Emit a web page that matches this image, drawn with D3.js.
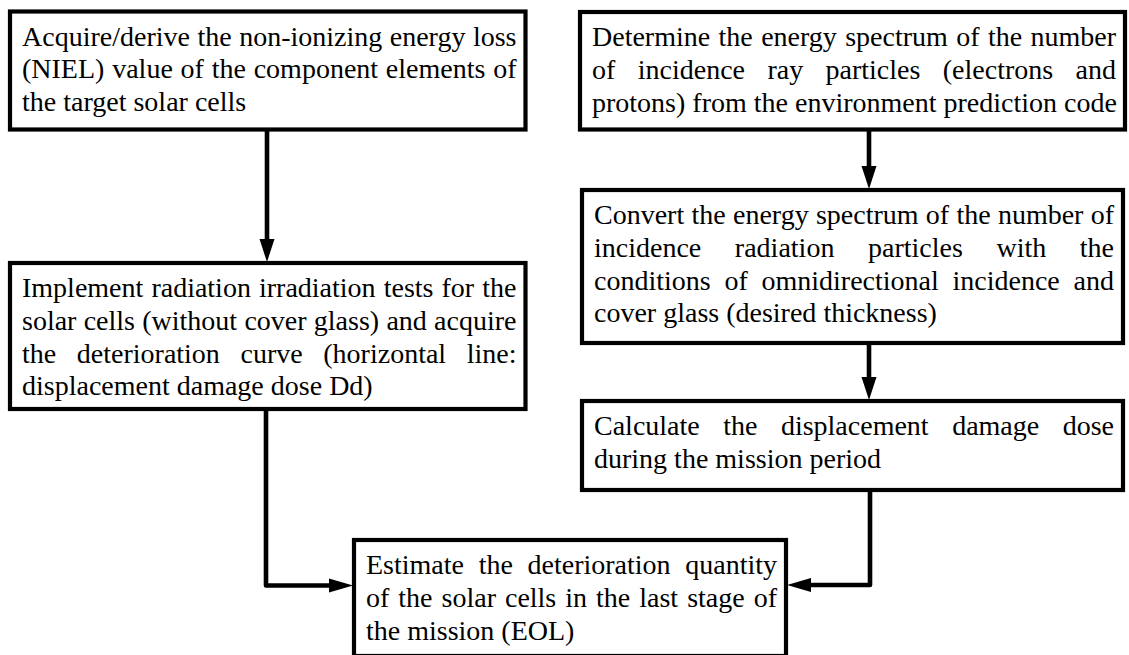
<!DOCTYPE html>
<html>
<head>
<meta charset="utf-8">
<script src="https://cdn.jsdelivr.net/npm/d3@7"></script>
<style>
  body { margin: 0; background: #fff; }
</style>
</head>
<body>
<script>
// step ids, in reading order
var steps = ["niel", "spectrum", "irradiation", "convert", "ddd", "estimate"];

// text of each step, line by line as in the figure
var nielLines = [
    "Acquire/derive the non-ionizing energy loss",
    "(NIEL) value of the component elements of",
    "the target solar cells"
];
var spectrumLines = [
    "Determine the energy spectrum of the number",
    "of incidence ray particles (electrons and",
    "protons) from the environment prediction code"
];
var irradiationLines = [
    "Implement radiation irradiation tests for the",
    "solar cells (without cover glass) and acquire",
    "the deterioration curve (horizontal line:",
    "displacement damage dose Dd)"
];
var convertLines = [
    "Convert the energy spectrum of the number of",
    "incidence radiation particles with the",
    "conditions of omnidirectional incidence and",
    "cover glass (desired thickness)"
];
var dddLines = [
    "Calculate the displacement damage dose",
    "during the mission period"
];
var estimateLines = [
    "Estimate the deterioration quantity",
    "of the solar cells in the last stage of",
    "the mission (EOL)"
];

// which step leads to which
var edgeFrom = ["niel", "spectrum", "convert", "irradiation", "ddd"];
var edgeTo   = ["irradiation", "convert", "ddd", "estimate", "estimate"];

var lines = {
    niel: nielLines, spectrum: spectrumLines, irradiation: irradiationLines,
    convert: convertLines, ddd: dddLines, estimate: estimateLines
};

// page layout (box outlines, border centre)
var width = 1129, height = 655;
var box = d3.scaleOrdinal()
    .domain(steps)
    .range([
        {x0: 10,  x1: 525.5, y0: 11.5, y1: 129.5},
        {x0: 580, x1: 1125,  y0: 12,   y1: 129.5},
        {x0: 10,  x1: 525.5, y0: 263,  y1: 409},
        {x0: 582, x1: 1123,  y0: 190,  y1: 343},
        {x0: 582, x1: 1123,  y0: 401,  y1: 490},
        {x0: 354, x1: 786,   y0: 540,  y1: 656}
    ]);

// where each connector runs
var edgeLayout = [
    {x: 267},
    {x: 869},
    {x: 869},
    {x: 266, y: 585.5, side: "left"},
    {x: 870, y: 585,   side: "right"}
];

var fontFamily = "'Liberation Serif', 'Times New Roman', Times, 'DejaVu Serif', serif";
var padLeft = 12, padRight = 9, firstBase = 34, lineStep = 32.8;

var svg = d3.select("body")
    .append("svg")
    .attr("width", width)
    .attr("height", height);

svg.append("rect")
    .attr("width", width)
    .attr("height", height)
    .attr("fill", "#fff");

// connectors go under the boxes
var links = svg.append("g").attr("class", "links");
var heads = svg.append("g").attr("class", "heads");

edgeFrom.forEach(function(src, i) {
    var a = box(src), b = box(edgeTo[i]), e = edgeLayout[i];
    var pts, head;
    if (!e.side) {
        pts = [[e.x, a.y1], [e.x, b.y0 - 20]];
        head = [[e.x - 7.5, b.y0 - 24], [e.x + 7.5, b.y0 - 24], [e.x, b.y0 - 1]];
    } else {
        var tx = e.side == "left" ? b.x0 - 1 : b.x1 + 1;
        var dir = e.side == "left" ? 1 : -1;
        pts = [[e.x, a.y1], [e.x, e.y], [tx - dir * 20, e.y]];
        head = [[tx - dir * 24, e.y - 7], [tx - dir * 24, e.y + 7], [tx, e.y]];
    }
    links.append("path")
        .attr("d", d3.line()(pts))
        .attr("fill", "none")
        .attr("stroke", "#000")
        .attr("stroke-width", 4.6)
        .attr("stroke-linejoin", "round");
    heads.append("path")
        .attr("d", d3.line()(head) + "Z")
        .attr("fill", "#000");
});

// the boxes with their justified text
var node = svg.selectAll(".step")
    .data(steps)
    .enter()
    .append("g")
    .attr("class", "step");

node.append("rect")
    .attr("x", function(d) { return box(d).x0; })
    .attr("y", function(d) { return box(d).y0; })
    .attr("width", function(d) { return box(d).x1 - box(d).x0; })
    .attr("height", function(d) { return box(d).y1 - box(d).y0; })
    .attr("fill", "#fff")
    .attr("stroke", "#000")
    .attr("stroke-width", 4.2);

node.each(function(d) {
    var g = d3.select(this), b = box(d), ls = lines[d];
    var left = b.x0 + padLeft, right = b.x1 - padRight;
    ls.forEach(function(line, li) {
        var y = b.y0 + firstBase + li * lineStep;
        var words = line.split(" ");
        var t = g.append("text")
            .attr("y", y)
            .attr("font-family", fontFamily)
            .attr("font-size", 28)
            .attr("fill", "#000");
        var spans = words.map(function(w) {
            return t.append("tspan").attr("x", left).text(w);
        });
        var widths = spans.map(function(s) { return s.node().getComputedTextLength(); });
        var space = 7;  // natural space at 28px
        if (li < ls.length - 1 && words.length > 1) {
            space = (right - left - d3.sum(widths)) / (words.length - 1);
        }
        var x = left;
        spans.forEach(function(s, k) {
            s.attr("x", x);
            x += widths[k] + space;
        });
    });
});
</script>
</body>
</html>
